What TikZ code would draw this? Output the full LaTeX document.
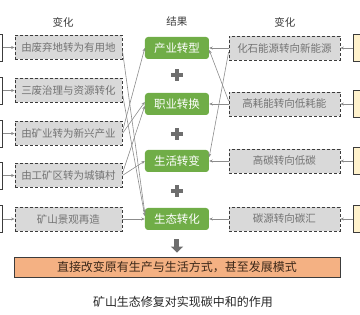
\documentclass[tikz,border=0pt]{standalone}
\usepackage{fontspec}
\setmainfont{Noto Sans CJK SC}
\usetikzlibrary{arrows.meta,positioning,calc}
\definecolor{ink}{RGB}{60,60,60}
\definecolor{wire}{RGB}{140,140,140}
\definecolor{grn}{RGB}{112,173,71}
\definecolor{boxg}{RGB}{217,217,217}
\definecolor{txtg}{RGB}{115,115,115}
\definecolor{yel}{RGB}{255,242,204}
\definecolor{org}{RGB}{244,177,131}
\definecolor{brn}{RGB}{60,40,25}
\definecolor{plusc}{RGB}{110,110,110}
\tikzset{
  chg/.style={draw=ink,densely dashed,line width=0.8pt,fill=boxg,text=txtg,
    minimum width=107pt,minimum height=24pt,inner sep=0pt,font=\fontsize{10.5}{12}\selectfont},
  res/.style={fill=grn,rounded corners=3pt,text=white,minimum width=64pt,
    minimum height=22pt,inner sep=0pt,font=\fontsize{11.5}{12}\selectfont},
  side/.style={draw=ink,line width=0.8pt,minimum width=30pt,minimum height=27pt,inner sep=0pt},
  link/.style={-{Stealth[length=3.5pt,width=3pt]},wire,line width=0.6pt},
  ttl/.style={font=\fontsize{10.5}{12}\selectfont,text=ink},
}
\begin{document}
\begin{tikzpicture}[x=1pt,y=-1pt]
\useasboundingbox (0,0) rectangle (360,315);
\clip (0,0) rectangle (360,315);
% headings
\node[ttl] (h1) at (63,22) {变化};
\node[ttl] (h2) at (177,22) {结果};
\node[ttl] (h3) at (285,22) {变化};
% left changes
\foreach \i/\y/\lab in {1/47.5/由废弃地转为有用地,2/90.5/三废治理与资源转化,
  3/133.5/由矿业转为新兴产业,4/175.5/由工矿区转为城镇村,5/219/矿山景观再造}{
  \node[chg] (l\i) at (68.5,\y) {\lab};
  \node[side,fill=white,anchor=east] (p\i) at (3,\y) {};
  \draw[link] (p\i) -- (l\i);
}
% results
\foreach \i/\y/\lab in {1/48/产业转型,2/104/职业转换,3/161/生活转变,4/219/生态转化}{
  \node[res] (g\i) at (177,\y) {\lab};
}
% right changes
\foreach \i/\y/\lab in {1/48/化石能源转向新能源,2/104/高耗能转向低耗能,3/161/高碳转向低碳,4/219/碳源转向碳汇}{
  \node[chg,minimum width=111pt] (r\i) at (284.5,\y) {\lab};
  \node[side,fill=yel,anchor=west] (s\i) at (353,\y) {};
  \draw[link] (s\i) -- (r\i);
  \draw[link] (r\i) -- (g\i);
}
% cross links
\draw[link] ($(l1.east)+(0,3)$) -- ($(g4.west)+(0,-6)$);
\draw[link] ($(l2.east)+(0,3)$) -- ($(g4.west)+(0,-3)$);
\draw[link] ($(l3.east)+(0,-2)$) -- (g1.west);
\draw[link] (l3.east) -- ($(g2.west)+(0,-2)$);
\draw[link] ($(l4.east)+(0,-2)$) -- ($(g2.west)+(0,2)$);
\draw[link] (l4.east) -- (g3.west);
\draw[link] (l5) -- (g4);
\draw[link] ($(r1.west)+(0,4)$) -- ($(g3.east)+(0,-4)$);
\draw[link] ($(r2.west)+(0,-3)$) -- ($(g1.east)+(0,2)$);
% plus signs
\foreach \y in {75,134,191}{
  \fill[plusc] (171,\y-2) rectangle (183,\y+2);
  \fill[plusc] (175,\y-6) rectangle (179,\y+6);
}
% bottom
\node[draw=ink,fill=org,line width=0.8pt,minimum width=326pt,minimum height=20pt,inner sep=0pt,
  text=brn,font=\fontsize{12}{14}\selectfont] (base) at (177,267) {直接改变原有生产与生活方式，甚至发展模式};
\draw[plusc,line width=5pt,-{Triangle[length=6pt,width=12pt]},shorten <=9pt,shorten >=4pt]
  (g4.south) -- (base.north);
\node[font=\fontsize{12}{14}\selectfont,text=black!85] (cap) at (183,302) {矿山生态修复对实现碳中和的作用};
\end{tikzpicture}
\end{document}
